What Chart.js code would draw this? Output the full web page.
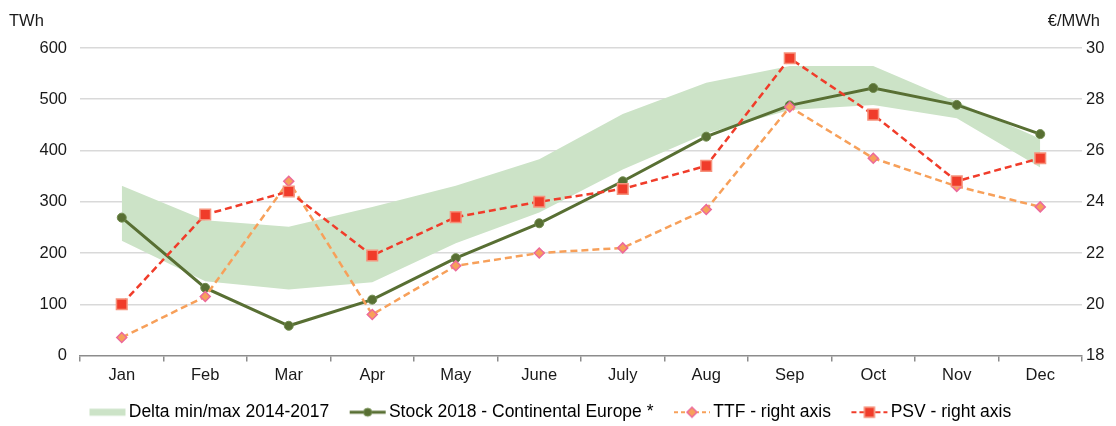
<!DOCTYPE html>
<html>
<head>
<meta charset="utf-8">
<script src="https://cdn.jsdelivr.net/npm/chart.js@4/dist/chart.umd.min.js"></script>
<style>
  html, body { margin: 0; padding: 0; background: #ffffff; }
  #wrap { width: 1116px; height: 426px; position: relative; }
</style>
</head>
<body>
<div id="wrap"><canvas id="c" width="1116" height="426"></canvas></div>
<script>
// ---- data ----
const months = ['Jan','Feb','Mar','Apr','May','June','July','Aug','Sep','Oct','Nov','Dec'];
const bandMax = [331, 264, 251, 290, 331, 383, 471, 532, 565, 565, 495, 423];
const bandMin = [224, 145, 129, 143, 219, 279, 363, 433, 479, 489, 463, 367];
const stock2018 = [269, 132, 58, 109, 190, 258, 340, 427, 488, 522, 489, 432];
const ttf = [18.7, 20.3, 24.8, 19.6, 21.5, 22.0, 22.2, 23.7, 27.7, 25.7, 24.6, 23.8];
const psv = [20.0, 23.5, 24.4, 21.9, 23.4, 24.0, 24.5, 25.4, 29.6, 27.4, 24.8, 25.7];
const leftTicks = [0, 100, 200, 300, 400, 500, 600];
const rightTicks = [18, 20, 22, 24, 26, 28, 30];
const labels = {
  band: 'Delta min/max 2014-2017',
  stock: 'Stock 2018 - Continental Europe *',
  ttf: 'TTF - right axis',
  psv: 'PSV - right axis',
  leftUnit: 'TWh',
  rightUnit: '€/MWh'
};

// ---- styles ----
const C = {
  band: 'rgb(204,227,199)',
  stock: '#586f33',
  stockPtBorder: '#6f8a4c',
  ttf: '#f7a05a',
  ttfBorder: '#ec6a9a',
  psv: '#f03c2a',
  psvBorder: '#f6927c',
  grid: '#d9d9d9',
  axis: '#8c8c8c',
  text: '#1a1a1a'
};
const FONT = '"Liberation Sans", Arial, Helvetica, sans-serif';

// legend symbol images (64 wide, symbol right-aligned from 27 to 63)
function makeSymbol(kind) {
  const cv = document.createElement('canvas');
  cv.width = 64; cv.height = 14;
  const g = cv.getContext('2d');
  const x0 = 27, x1 = 63, cy = 7;
  if (kind === 'band') {
    g.fillStyle = C.band;
    g.fillRect(x0, cy - 3.5, 36, 7);
  } else if (kind === 'stock') {
    g.strokeStyle = C.stock; g.lineWidth = 3;
    g.beginPath(); g.moveTo(x0, cy); g.lineTo(x1, cy); g.stroke();
    g.fillStyle = C.stock; g.strokeStyle = C.stockPtBorder; g.lineWidth = 1;
    g.beginPath(); g.arc((x0 + x1) / 2, cy, 4, 0, Math.PI * 2); g.fill(); g.stroke();
  } else if (kind === 'ttf') {
    g.strokeStyle = C.ttf; g.lineWidth = 2; g.setLineDash([4, 3]);
    g.beginPath(); g.moveTo(x0, cy); g.lineTo(x1, cy); g.stroke();
    g.setLineDash([]);
    const mx = (x0 + x1) / 2, r = 5;
    g.fillStyle = C.ttf; g.strokeStyle = C.ttfBorder; g.lineWidth = 1.5;
    g.beginPath(); g.moveTo(mx - r, cy); g.lineTo(mx, cy - r); g.lineTo(mx + r, cy); g.lineTo(mx, cy + r); g.closePath();
    g.fill(); g.stroke();
  } else if (kind === 'psv') {
    g.strokeStyle = C.psv; g.lineWidth = 2; g.setLineDash([5, 3]);
    g.beginPath(); g.moveTo(x0, cy); g.lineTo(x1, cy); g.stroke();
    g.setLineDash([]);
    const mx = (x0 + x1) / 2, s = 5;
    g.fillStyle = C.psv; g.strokeStyle = C.psvBorder; g.lineWidth = 1.5;
    g.fillRect(mx - s, cy - s, 2 * s, 2 * s); g.strokeRect(mx - s, cy - s, 2 * s, 2 * s);
  }
  return cv;
}
const symbols = { band: makeSymbol('band'), stock: makeSymbol('stock'), ttf: makeSymbol('ttf'), psv: makeSymbol('psv') };

const unitTitles = {
  id: 'unitTitles',
  afterDraw(chart) {
    const g = chart.ctx;
    g.save();
    g.fillStyle = C.text;
    g.font = '16.5px ' + FONT;
    g.textBaseline = 'middle';
    g.textAlign = 'left';
    g.fillText(labels.leftUnit, 9, 21);
    g.textAlign = 'right';
    g.fillText(labels.rightUnit, 1100, 21);
    g.restore();
  }
};

const legendShift = {
  id: 'legendShift',
  afterLayout(chart) {
    const lg = chart.legend;
    if (lg) { lg.top += 5; lg.bottom += 5; lg.left = 69; }
  }
};

new Chart(document.getElementById('c'), {
  type: 'line',
  data: {
    labels: months,
    datasets: [
      {
        label: labels.psv, data: psv, yAxisID: 'yR',
        borderColor: C.psv, borderWidth: 2.5, borderDash: [7, 4],
        pointStyle: 'rect', pointRadius: 7.5, pointBackgroundColor: C.psv,
        pointBorderColor: C.psvBorder, pointBorderWidth: 1.5, fill: false, tension: 0
      },
      {
        label: labels.ttf, data: ttf, yAxisID: 'yR',
        borderColor: C.ttf, borderWidth: 2.5, borderDash: [7, 4],
        pointStyle: 'rectRot', pointRadius: 5, pointBackgroundColor: C.ttf,
        pointBorderColor: C.ttfBorder, pointBorderWidth: 1.5, fill: false, tension: 0
      },
      {
        label: labels.stock, data: stock2018, yAxisID: 'yL',
        borderColor: C.stock, borderWidth: 3,
        pointStyle: 'circle', pointRadius: 4.5, pointBackgroundColor: C.stock,
        pointBorderColor: C.stockPtBorder, pointBorderWidth: 1, fill: false, tension: 0
      },
      {
        label: labels.band, data: bandMax, yAxisID: 'yL',
        borderWidth: 0, borderColor: 'rgba(0,0,0,0)', pointRadius: 0,
        backgroundColor: C.band, fill: '+1', tension: 0
      },
      {
        label: 'band-min', data: bandMin, yAxisID: 'yL',
        borderWidth: 0, borderColor: 'rgba(0,0,0,0)', pointRadius: 0,
        fill: false, tension: 0
      }
    ]
  },
  options: {
    responsive: false,
    animation: false,
    events: [],
    layout: { padding: { top: 48, left: 0, right: 0, bottom: 0 } },
    plugins: {
      filler: { drawTime: 'beforeDatasetsDraw' },
      tooltip: { enabled: false },
      legend: {
        position: 'bottom',
        align: 'start',
        labels: {
          usePointStyle: true,
          pointStyleWidth: 51,
          padding: 0,
          color: C.text,
          font: { family: FONT, size: 17.5 },
          generateLabels() {
            return [
              { text: labels.band, pointStyle: symbols.band, fillStyle: C.band, strokeStyle: C.band, lineWidth: 0, hidden: false, datasetIndex: 3 },
              { text: labels.stock, pointStyle: symbols.stock, fillStyle: C.stock, strokeStyle: C.stock, lineWidth: 0, hidden: false, datasetIndex: 2 },
              { text: labels.ttf, pointStyle: symbols.ttf, fillStyle: C.ttf, strokeStyle: C.ttf, lineWidth: 0, hidden: false, datasetIndex: 1 },
              { text: labels.psv, pointStyle: symbols.psv, fillStyle: C.psv, strokeStyle: C.psv, lineWidth: 0, hidden: false, datasetIndex: 0 }
            ];
          }
        }
      }
    },
    scales: {
      x: {
        type: 'category',
        offset: true,
        afterFit(s) { s.height = 43; },
        grid: { display: true, drawOnChartArea: false, offset: true, tickLength: 6, color: C.axis, lineWidth: 1.5 },
        border: { display: true, color: C.axis, width: 1.5 },
        ticks: { color: C.text, font: { family: FONT, size: 16.5 }, padding: 4, maxRotation: 0, autoSkip: false }
      },
      yL: {
        type: 'linear', position: 'left',
        min: leftTicks[0], max: leftTicks[leftTicks.length - 1],
        afterFit(s) { s.width = 80; },
        afterBuildTicks(s) { s.ticks = leftTicks.map(v => ({ value: v })); },
        grid: {
          drawTicks: false, lineWidth: 1.5,
          color: (c) => (c.tick && c.tick.value === 0) ? 'rgba(0,0,0,0)' : C.grid
        },
        border: { display: false },
        ticks: { color: C.text, font: { family: FONT, size: 16.5 }, padding: 13 }
      },
      yR: {
        type: 'linear', position: 'right',
        min: rightTicks[0], max: rightTicks[rightTicks.length - 1],
        afterFit(s) { s.width = 34; },
        afterBuildTicks(s) { s.ticks = rightTicks.map(v => ({ value: v })); },
        grid: { display: false, drawTicks: false },
        border: { display: false },
        ticks: { color: C.text, font: { family: FONT, size: 16.5 }, padding: 4 }
      }
    }
  },
  plugins: [unitTitles, legendShift]
});
</script>
</body>
</html>
